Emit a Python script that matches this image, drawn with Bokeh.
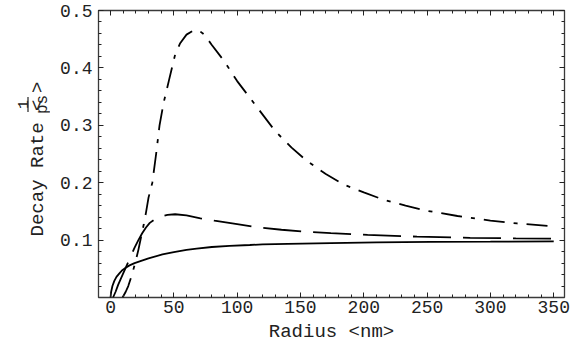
import math
from bokeh.plotting import figure
from bokeh.models import Range1d, FixedTicker, LinearAxis
from bokeh.layouts import row
from bokeh.core.properties import value
from bokeh.embed import file_html
from bokeh.resources import INLINE

# ---- data ----
solid_x = [0, 0.5, 1.5, 3, 4.7, 7, 9, 12, 15, 19, 23, 30, 41, 50, 60, 68, 80, 94, 110, 120, 140, 174, 210, 253, 300, 350]
solid_y = [0, 0.010, 0.020, 0.029, 0.036, 0.042, 0.047, 0.052, 0.056, 0.060, 0.063, 0.068, 0.075, 0.079, 0.083,
           0.085, 0.088, 0.090, 0.0915, 0.0925, 0.0935, 0.0948, 0.096, 0.097, 0.0973, 0.0977]

dash_x = [2, 4, 6, 8, 10, 13, 16, 19, 22, 25, 28, 31, 35, 40, 45, 51, 60, 71, 82, 100, 117, 135, 151, 174,
          203, 242, 284, 320, 350]
dash_y = [0, 0.010, 0.022, 0.032, 0.042, 0.057, 0.072, 0.087, 0.100, 0.112, 0.122, 0.130, 0.136, 0.141, 0.144,
          0.145, 0.143, 0.138, 0.134, 0.128, 0.122, 0.118, 0.115, 0.112, 0.109, 0.106, 0.104, 0.103, 0.1024]

dashdot_x = [9.5, 12, 14, 17, 20, 22, 24, 26.3, 28, 30, 33, 36, 38.7, 42, 46, 51, 55, 60, 66, 70, 74, 80, 90,
             100, 110, 120, 130, 143, 155, 170, 184, 200, 216, 233, 250, 274, 300, 321, 350]
dashdot_y = [0, 0.010, 0.020, 0.040, 0.065, 0.083, 0.104, 0.128, 0.148, 0.174, 0.200, 0.250, 0.300, 0.340,
             0.377, 0.423, 0.443, 0.458, 0.466, 0.465, 0.458, 0.440, 0.411, 0.377, 0.348, 0.319, 0.290, 0.261,
             0.238, 0.215, 0.197, 0.183, 0.170, 0.160, 0.151, 0.142, 0.134, 0.129, 0.124]

x_ticks = [0, 50, 100, 150, 200, 250, 300, 350]
x_minor = [v for v in range(0, 360, 10)]
y_ticks = [0.1, 0.2, 0.3, 0.4, 0.5]
y_minor = [round(0.02 * i, 2) for i in range(1, 26)]

y_label_main = "Decay Rate <"
y_label_num = "1"
y_label_den = "ps"
y_label_close = ">"
x_label = "Radius <nm>"

FONT = "Liberation Mono"
INK = "#222222"
H = 348          # canvas height
LW = 50          # width of the strip holding the y-axis title
FRAME_L, FRAME_T, FRAME_R = 98, 10, 564

# ---------- strip with the rotated y-axis title (data units == canvas pixels) ----------
lf = figure(width=LW, height=H, x_range=Range1d(0, LW), y_range=Range1d(H, 0),
            x_axis_location=None, y_axis_location=None, min_border=0,
            output_backend="svg", toolbar_location=None,
            background_fill_color="white", border_fill_color="white")
lf.outline_line_color = None
lf.grid.visible = False
rot = math.pi / 2
lf.text(x=[37, 37], y=[191, 93], text=[y_label_main, y_label_close], angle=rot,
        text_font=value(FONT), text_font_size="19px", text_color=INK,
        text_align="center", text_baseline="alphabetic")
lf.text(x=[22], y=[114], text=[y_label_num], angle=rot,
        text_font=value(FONT), text_font_size="15px", text_color=INK,
        text_align="center", text_baseline="alphabetic")
lf.text(x=[42], y=[114], text=[y_label_den], angle=rot,
        text_font=value(FONT), text_font_size="16px", text_color=INK,
        text_align="center", text_baseline="alphabetic")
lf.segment(x0=[27.5], y0=[105], x1=[27.5], y1=[123], line_color=INK, line_width=1.2)

# ---------- main plot ----------
p = figure(width=FRAME_R - LW + 15, height=H, x_range=Range1d(-9.5, 358.5), y_range=Range1d(0.0, 0.5),
           output_backend="svg", toolbar_location=None,
           min_border_left=FRAME_L - LW, min_border_top=FRAME_T, min_border_right=15, min_border_bottom=51,
           background_fill_color="white", border_fill_color="white")
p.grid.visible = False
p.outline_line_color = "#3a3a3a"
p.outline_line_width = 1.3

def style_axis(ax, labels=True):
    ax.axis_line_color = None
    ax.major_tick_in = 5
    ax.major_tick_out = 0
    ax.minor_tick_in = 3
    ax.minor_tick_out = 0
    ax.major_tick_line_color = INK
    ax.minor_tick_line_color = INK
    ax.major_label_text_font = FONT
    ax.major_label_text_color = INK
    if not labels:
        ax.major_label_text_font_size = "0px"
        ax.major_label_standoff = 0

p.xaxis.ticker = FixedTicker(ticks=x_ticks, minor_ticks=x_minor)
p.yaxis.ticker = FixedTicker(ticks=y_ticks, minor_ticks=y_minor)
style_axis(p.xaxis[0])
style_axis(p.yaxis[0])
p.xaxis.major_label_text_font_size = "18px"
p.yaxis.major_label_text_font_size = "18px"
p.xaxis.major_label_standoff = 3
p.yaxis.major_label_standoff = 6
p.xaxis.axis_label = x_label
p.xaxis.axis_label_text_font = FONT
p.xaxis.axis_label_text_font_size = "19px"
p.xaxis.axis_label_text_font_style = "normal"
p.xaxis.axis_label_text_color = INK
p.xaxis.axis_label_standoff = 5

top = LinearAxis(ticker=FixedTicker(ticks=x_ticks, minor_ticks=x_minor))
style_axis(top, labels=False)
p.add_layout(top, "above")
right = LinearAxis(ticker=FixedTicker(ticks=y_ticks, minor_ticks=y_minor))
style_axis(right, labels=False)
p.add_layout(right, "right")

p.line(solid_x, solid_y, line_color="black", line_width=1.8)
p.line(dash_x, dash_y, line_color="black", line_width=1.8, line_dash="38 12")
p.line(dashdot_x, dashdot_y, line_color="black", line_width=1.8, line_dash="21 9 4 9")

layout = row(lf, p, spacing=0)
open("out.html", "w").write(file_html(layout, INLINE))
